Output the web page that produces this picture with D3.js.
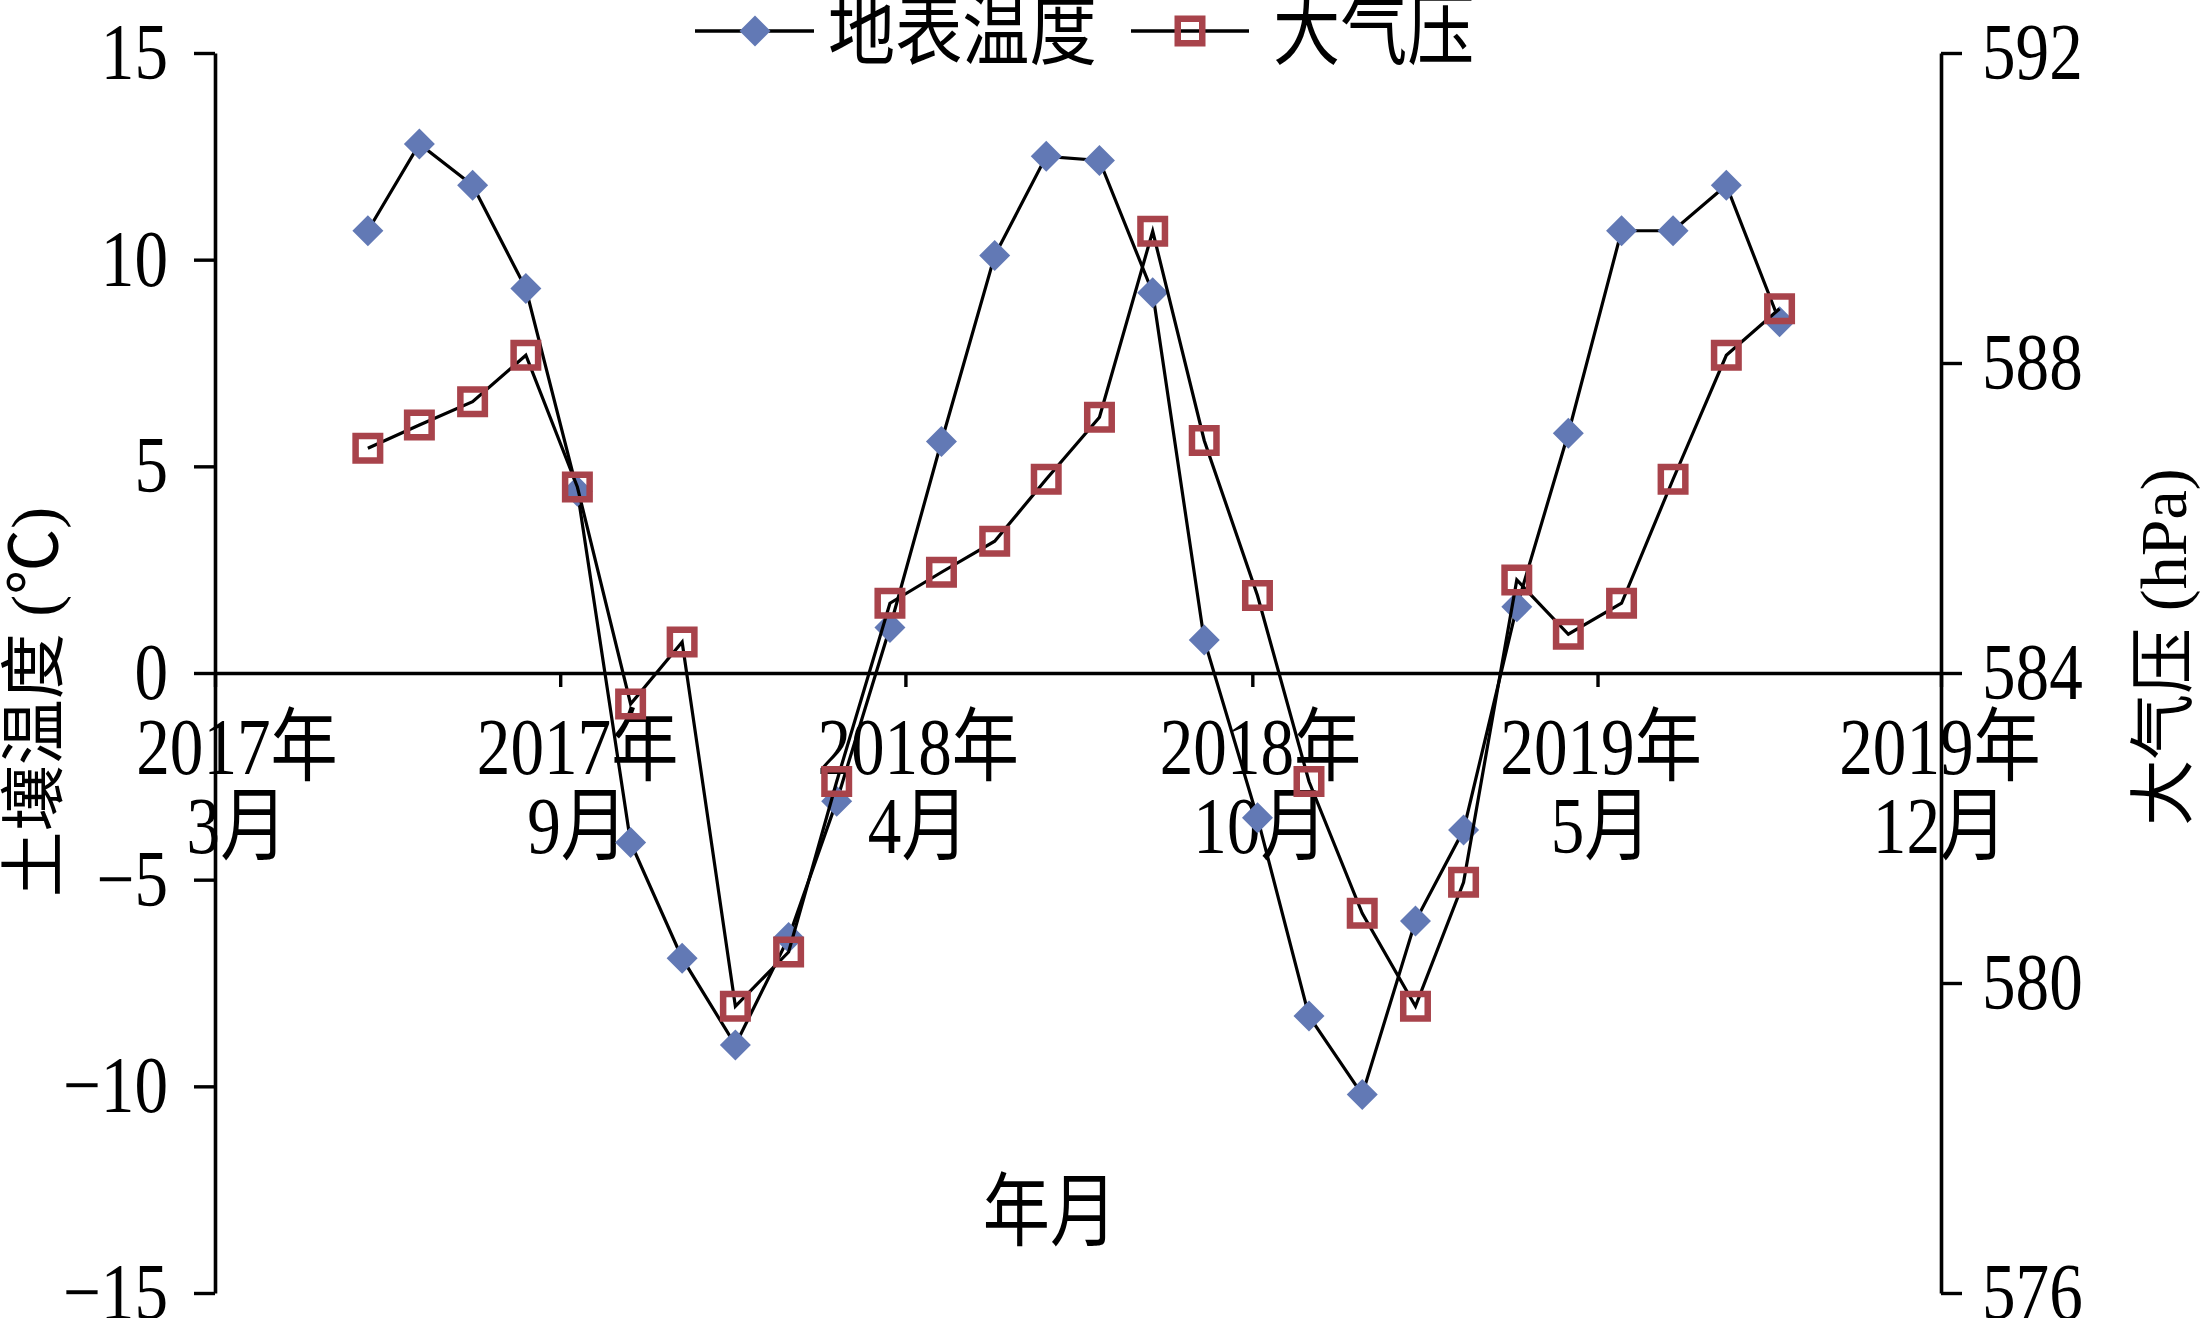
<!DOCTYPE html>
<html>
<head>
<meta charset="utf-8">
<script src="https://cdn.jsdelivr.net/npm/d3@7"></script>
<style>
  body { margin: 0; background: #fff; }
  text { font-family: "Liberation Serif", "Times New Roman", "Noto Sans CJK SC", serif; fill: #000; }
</style>
</head>
<body>
<svg width="2201" height="1318"></svg>
<script>
// monthly values, Jun 2017 .. Sep 2019
var months = ['2017-06','2017-07','2017-08','2017-09','2017-10','2017-11','2017-12',
  '2018-01','2018-02','2018-03','2018-04','2018-05','2018-06','2018-07','2018-08','2018-09',
  '2018-10','2018-11','2018-12','2019-01','2019-02','2019-03','2019-04','2019-05','2019-06',
  '2019-07','2019-08','2019-09'];
var tempVals = [10.7, 12.8, 11.8, 9.3, 4.4, -4.1, -6.9, -9.0, -6.4, -3.1, 1.1, 5.6, 10.1, 12.5,
  12.4, 9.2, 0.8, -3.5, -8.3, -10.2, -6.0, -3.8, 1.6, 5.8, 10.7, 10.7, 11.8, 8.5];
var pressVals = [586.9, 587.2, 587.5, 588.1, 586.4, 583.6, 584.4, 579.7, 580.4, 582.6, 584.9, 585.3,
  585.7, 586.5, 587.3, 589.7, 587.0, 585.0, 582.6, 580.9, 579.7, 581.3, 585.2, 584.5, 584.9,
  586.5, 588.1, 588.7];
var seriesNames = ['地表温度', '大气压'];

// date axis: 201-day major unit
var xTickDates = ['2017-03-04','2017-09-21','2018-04-10','2018-10-29','2019-05-18','2019-12-04'];
var xTickYears = ['2017年','2017年','2018年','2018年','2019年','2019年'];
var xTickMonths = ['3月','9月','4月','10月','5月','12月'];
var leftTicks = [-15, -10, -5, 0, 5, 10, 15];
var rightTicks = [576, 580, 584, 588, 592];

function main() {
  var svg = d3.select('svg');
  var parseM = d3.timeParse('%Y-%m');
  var parseD = d3.timeParse('%Y-%m-%d');
  var sx = 0.84; // glyphs are narrow in the original

  var x = d3.scaleTime()
      .domain([parseD(xTickDates[0]), parseD(xTickDates[xTickDates.length - 1])])
      .range([215, 1941]);
  var yL = d3.scaleLinear().domain([-15, 15]).range([1293, 53]);
  var yR = d3.scaleLinear().domain([576, 592]).range([1293, 53]);

  var data = months.map(function(m, i) {
    return {date: parseM(m), t: tempVals[i], p: pressVals[i]};
  });

  function squeeze(sel) {
    sel.each(function() {
      var t = d3.select(this);
      var tx = +t.attr('x') || 0, ty = +t.attr('y') || 0;
      t.attr('x', 0).attr('y', 0)
        .attr('transform', 'translate(' + tx + ',' + ty + ') scale(' + sx + ',1)');
    });
  }

  // left axis
  var gl = svg.append('g')
      .attr('transform', 'translate(215,0)')
      .call(d3.axisLeft(yL).tickValues(leftTicks).tickSize(21).tickSizeOuter(0).tickPadding(26));
  // right axis
  var gr = svg.append('g')
      .attr('transform', 'translate(1941,0)')
      .call(d3.axisRight(yR).tickValues(rightTicks).tickSize(21).tickSizeOuter(0).tickPadding(20));
  // date axis along zero
  var gx = svg.append('g')
      .attr('transform', 'translate(0,' + yL(0) + ')')
      .call(d3.axisBottom(x).tickValues(xTickDates.map(parseD)).tickSize(14).tickSizeOuter(0)
        .tickFormat(function() { return ''; }));

  [gl, gr, gx].forEach(function(g) {
    g.selectAll('path.domain').attr('stroke', '#000').attr('stroke-width', 3.6);
    g.selectAll('.tick line').attr('stroke', '#000').attr('stroke-width', 3.4);
    g.selectAll('.tick text').attr('font-size', 80).attr('font-family', null).attr('fill', '#000');
  });
  squeeze(gl.selectAll('.tick text'));
  squeeze(gr.selectAll('.tick text'));

  // two-line date labels (left ones sit a little right of their tick, like the original)
  var lab = svg.append('g').selectAll('g').data(xTickDates).enter().append('g')
      .attr('transform', function(d, i) {
        return 'translate(' + (x(parseD(d)) + 22 - 4.6 * i) + ',0) scale(' + sx + ',1)';
      });
  lab.append('text').attr('y', 774).attr('text-anchor', 'middle').attr('font-size', 80)
      .text(function(d, i) { return xTickYears[i]; });
  lab.append('text').attr('y', 853).attr('text-anchor', 'middle').attr('font-size', 80)
      .text(function(d, i) { return xTickMonths[i]; });

  // axis titles
  svg.append('text').attr('transform', 'translate(1050,1212) scale(' + sx + ',1)')
      .attr('text-anchor', 'middle').attr('dominant-baseline', 'central').attr('font-size', 80)
      .text('年月');
  svg.append('text').attr('transform', 'translate(34,702) rotate(-90)')
      .attr('text-anchor', 'middle').attr('dominant-baseline', 'central').attr('font-size', 66)
      .text('土壤温度 (℃)');
  svg.append('text').attr('transform', 'translate(2163,647) rotate(-90)')
      .attr('text-anchor', 'middle').attr('dominant-baseline', 'central').attr('font-size', 66)
      .text('大气压 (hPa)');

  var blue = '#6279B5', red = '#A8434B';
  var diamond = 'M0,-15.5L15.5,0L0,15.5L-15.5,0Z';

  // temperature series
  var lineT = d3.line().x(function(d) { return x(d.date); }).y(function(d) { return yL(d.t); });
  svg.append('path').datum(data).attr('d', lineT)
      .attr('fill', 'none').attr('stroke', '#000').attr('stroke-width', 3.2);
  svg.append('g').selectAll('path').data(data).enter().append('path')
      .attr('d', diamond).attr('fill', blue)
      .attr('transform', function(d) { return 'translate(' + x(d.date) + ',' + yL(d.t) + ')'; });

  // pressure series
  var lineP = d3.line().x(function(d) { return x(d.date); }).y(function(d) { return yR(d.p); });
  svg.append('path').datum(data).attr('d', lineP)
      .attr('fill', 'none').attr('stroke', '#000').attr('stroke-width', 3.2);
  svg.append('g').selectAll('rect').data(data).enter().append('rect')
      .attr('x', function(d) { return x(d.date) - 12.25; })
      .attr('y', function(d) { return yR(d.p) - 12.25; })
      .attr('width', 24.5).attr('height', 24.5)
      .attr('fill', 'none').attr('stroke', red).attr('stroke-width', 6.5);

  // legend
  var lg = svg.append('g');
  lg.append('line').attr('x1', 695).attr('x2', 814).attr('y1', 31).attr('y2', 31)
      .attr('stroke', '#000').attr('stroke-width', 3.4);
  lg.append('path').attr('d', diamond).attr('fill', blue).attr('transform', 'translate(755,31)');
  lg.append('text').attr('transform', 'translate(828,31) scale(' + sx + ',1)')
      .attr('dominant-baseline', 'central').attr('font-size', 80).text(seriesNames[0]);
  lg.append('line').attr('x1', 1131).attr('x2', 1249).attr('y1', 31).attr('y2', 31)
      .attr('stroke', '#000').attr('stroke-width', 3.4);
  lg.append('rect').attr('x', 1190 - 12.25).attr('y', 31 - 12.25).attr('width', 24.5).attr('height', 24.5)
      .attr('fill', 'none').attr('stroke', red).attr('stroke-width', 6.5);
  lg.append('text').attr('transform', 'translate(1273,31) scale(' + sx + ',1)')
      .attr('dominant-baseline', 'central').attr('font-size', 80).text(seriesNames[1]);
}
main();
</script>
</body>
</html>
